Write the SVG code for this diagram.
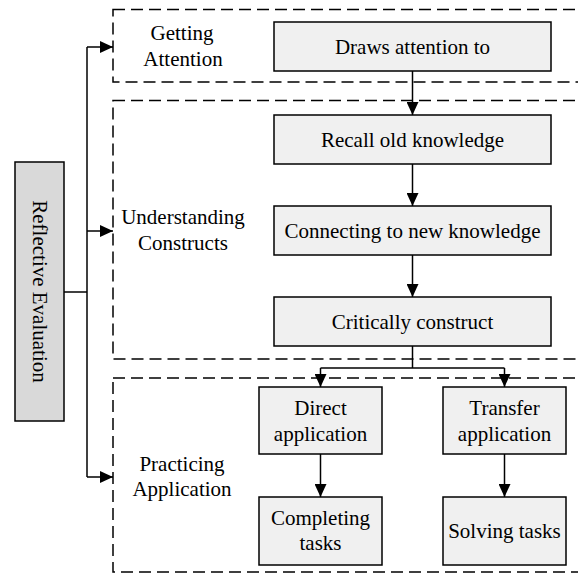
<svg xmlns="http://www.w3.org/2000/svg" width="578" height="574" viewBox="0 0 578 574" font-family="Times New Roman, Liberation Serif, Tinos, Noto Serif, DejaVu Serif, serif">
  <style>
    .zone { fill: none; stroke: #000; stroke-width: 1.5; stroke-dasharray: 12 6; }
    .node { fill: #f0f0f0; stroke: #000; stroke-width: 1.5; }
    .root { fill: #d9d9d9; stroke: #000; stroke-width: 1.5; }
    .wire { fill: none; stroke: #000; stroke-width: 1.5; }
    .lbl { font-size: 21px; fill: #000; text-anchor: middle; }
  </style>
  <defs>
    <marker id="arrow" viewBox="0 0 13 12" refX="13" refY="6" markerWidth="13" markerHeight="12" markerUnits="userSpaceOnUse" orient="auto">
      <path d="M0,0 L13,6 L0,12 Z" fill="#000"/>
    </marker>
  </defs>

  <!-- dashed stage zones -->
  <g id="zones">
    <rect class="zone" x="113" y="9.5" width="480" height="72.5"/>
    <rect class="zone" x="113" y="100.5" width="480" height="258.5"/>
    <rect class="zone" x="113" y="378" width="480" height="194"/>
  </g>

  <!-- stage labels -->
  <g id="label-getting-attention">
    <text class="lbl" x="182" y="40">Getting</text>
    <text class="lbl" x="183" y="66">Attention</text>
  </g>
  <g id="label-understanding-constructs">
    <text class="lbl" x="183" y="224">Understanding</text>
    <text class="lbl" x="183" y="250">Constructs</text>
  </g>
  <g id="label-practicing-application">
    <text class="lbl" x="182" y="471">Practicing</text>
    <text class="lbl" x="182" y="496">Application</text>
  </g>

  <!-- connectors -->
  <g id="connectors">
    <path class="wire" d="M64,292 H87"/>
    <path class="wire" d="M87,47 V477"/>
    <path class="wire" d="M87,47 H113" marker-end="url(#arrow)"/>
    <path class="wire" d="M87,231 H113" marker-end="url(#arrow)"/>
    <path class="wire" d="M87,477 H113" marker-end="url(#arrow)"/>
    <path class="wire" d="M412.5,71 V115" marker-end="url(#arrow)"/>
    <path class="wire" d="M412.5,164 V206" marker-end="url(#arrow)"/>
    <path class="wire" d="M412.5,255 V297" marker-end="url(#arrow)"/>
    <path class="wire" d="M412.5,346 V368"/>
    <path class="wire" d="M320.5,368 H504.5"/>
    <path class="wire" d="M320.5,368 V387" marker-end="url(#arrow)"/>
    <path class="wire" d="M504.5,368 V387" marker-end="url(#arrow)"/>
    <path class="wire" d="M320.5,454 V497" marker-end="url(#arrow)"/>
    <path class="wire" d="M504.5,454 V497" marker-end="url(#arrow)"/>
  </g>

  <!-- nodes -->
  <g id="reflective-evaluation">
    <rect class="root" x="15" y="162" width="49" height="259"/>
    <text class="lbl" transform="translate(40,291.5) rotate(90)" x="0" y="7">Reflective Evaluation</text>
  </g>
  <g id="draws-attention">
    <rect class="node" x="274" y="22" width="277" height="49"/>
    <text class="lbl" x="412.5" y="54">Draws attention to</text>
  </g>
  <g id="recall-old-knowledge">
    <rect class="node" x="274" y="115" width="277" height="49"/>
    <text class="lbl" x="412.5" y="147">Recall old knowledge</text>
  </g>
  <g id="connecting-new-knowledge">
    <rect class="node" x="274" y="206" width="277" height="49"/>
    <text class="lbl" x="412.5" y="238">Connecting to new knowledge</text>
  </g>
  <g id="critically-construct">
    <rect class="node" x="274" y="297" width="277" height="49"/>
    <text class="lbl" x="412.5" y="329">Critically construct</text>
  </g>
  <g id="direct-application">
    <rect class="node" x="259" y="387" width="123" height="67"/>
    <text class="lbl" x="320.5" y="415">Direct</text>
    <text class="lbl" x="320.5" y="441">application</text>
  </g>
  <g id="transfer-application">
    <rect class="node" x="443" y="387" width="123" height="67"/>
    <text class="lbl" x="504.5" y="415">Transfer</text>
    <text class="lbl" x="504.5" y="441">application</text>
  </g>
  <g id="completing-tasks">
    <rect class="node" x="259" y="497" width="123" height="68"/>
    <text class="lbl" x="320.5" y="525">Completing</text>
    <text class="lbl" x="320.5" y="550">tasks</text>
  </g>
  <g id="solving-tasks">
    <rect class="node" x="443" y="497" width="123" height="68"/>
    <text class="lbl" x="504.5" y="538">Solving tasks</text>
  </g>
</svg>
